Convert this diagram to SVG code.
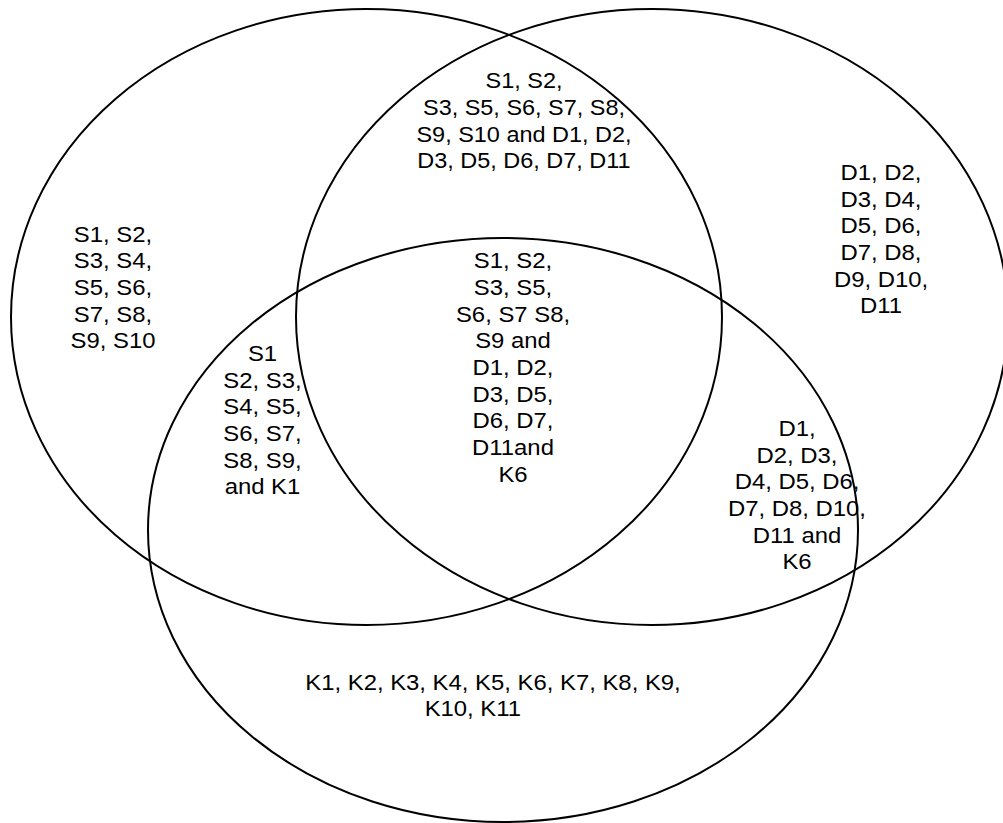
<svg xmlns="http://www.w3.org/2000/svg" width="1003" height="823" viewBox="0 0 1003 823">
<style>
.set{fill:none;stroke:#000;stroke-width:2}
.t{font-family:"Liberation Sans",Arial,sans-serif;font-size:21.33px;fill:#000;text-anchor:middle}
</style>
<rect width="1003" height="823" fill="#fff"/>
<g id="sets">
<ellipse id="setS" class="set" cx="366.5" cy="317" rx="355.5" ry="308"/>
<ellipse id="setD" class="set" cx="652" cy="317" rx="356" ry="308"/>
<ellipse id="setK" class="set" cx="503" cy="530" rx="355" ry="292"/>
</g>
<g id="onlyS" transform="translate(113,0) scale(1.12,1)">
<text class="t" x="0" y="241.7">S1, S2,</text>
<text class="t" x="0" y="268.3">S3, S4,</text>
<text class="t" x="0" y="295">S5, S6,</text>
<text class="t" x="0" y="321.7">S7, S8,</text>
<text class="t" x="0" y="348.3">S9, S10</text>
</g>
<g id="SD" transform="translate(524,0) scale(1.1,1)">
<text class="t" x="0" y="88.3">S1, S2,</text>
<text class="t" x="0" y="115">S3, S5, S6, S7, S8,</text>
<text class="t" x="0" y="141.7">S9, S10 and D1, D2,</text>
<text class="t" x="0" y="168.3">D3, D5, D6, D7, D11</text>
</g>
<g id="onlyD" transform="translate(881,0) scale(1.12,1)">
<text class="t" x="0" y="180">D1, D2,</text>
<text class="t" x="0" y="206.7">D3, D4,</text>
<text class="t" x="0" y="233.3">D5, D6,</text>
<text class="t" x="0" y="260">D7, D8,</text>
<text class="t" x="0" y="286.7">D9, D10,</text>
<text class="t" x="0" y="313.3">D11</text>
</g>
<g id="SDK" transform="translate(513,0) scale(1.12,1)">
<text class="t" x="0" y="268.3">S1, S2,</text>
<text class="t" x="0" y="295">S3, S5,</text>
<text class="t" x="0" y="321.7">S6, S7 S8,</text>
<text class="t" x="0" y="348.3">S9 and</text>
<text class="t" x="0" y="375">D1, D2,</text>
<text class="t" x="0" y="401.7">D3, D5,</text>
<text class="t" x="0" y="428.3">D6, D7,</text>
<text class="t" x="0" y="455">D11and</text>
<text class="t" x="0" y="481.7">K6</text>
</g>
<g id="SK" transform="translate(262.5,0) scale(1.12,1)">
<text class="t" x="0" y="361">S1</text>
<text class="t" x="0" y="387.7">S2, S3,</text>
<text class="t" x="0" y="414.3">S4, S5,</text>
<text class="t" x="0" y="441">S6, S7,</text>
<text class="t" x="0" y="467.7">S8, S9,</text>
<text class="t" x="0" y="494.3">and K1</text>
</g>
<g id="DK" transform="translate(797,0) scale(1.12,1)">
<text class="t" x="0" y="436">D1,</text>
<text class="t" x="0" y="462.7">D2, D3,</text>
<text class="t" x="0" y="489.3">D4, D5, D6,</text>
<text class="t" x="0" y="516">D7, D8, D10,</text>
<text class="t" x="0" y="542.7">D11 and</text>
<text class="t" x="0" y="569.3">K6</text>
</g>
<g id="onlyK" transform="translate(493,0) scale(1.12,1)">
<text class="t" x="0" y="689.7">K1, K2, K3, K4, K5, K6, K7, K8, K9,</text>
<text class="t" x="-18" y="716.3">K10, K11</text>
</g>
</svg>
